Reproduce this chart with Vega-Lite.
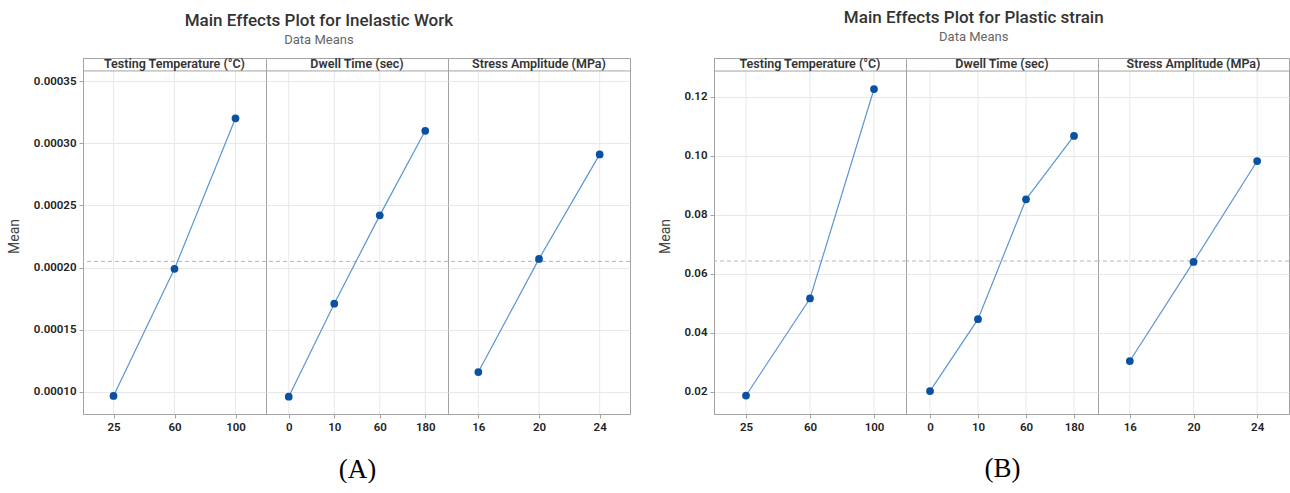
{
  "$schema": "https://vega.github.io/schema/vega-lite/v6.json",
  "padding": {"left": 6, "top": 8, "right": 0, "bottom": 0},
  "background": "white",
  "datasets": {
    "work": [
      {"factor": "Testing Temperature (°C)", "level": "25", "mean": 0.0000968},
      {"factor": "Testing Temperature (°C)", "level": "60", "mean": 0.000199},
      {"factor": "Testing Temperature (°C)", "level": "100", "mean": 0.000320},
      {"factor": "Dwell Time (sec)", "level": "0", "mean": 0.0000962},
      {"factor": "Dwell Time (sec)", "level": "10", "mean": 0.000171},
      {"factor": "Dwell Time (sec)", "level": "60", "mean": 0.000242},
      {"factor": "Dwell Time (sec)", "level": "180", "mean": 0.000310},
      {"factor": "Stress Amplitude (MPa)", "level": "16", "mean": 0.000116},
      {"factor": "Stress Amplitude (MPa)", "level": "20", "mean": 0.000207},
      {"factor": "Stress Amplitude (MPa)", "level": "24", "mean": 0.000291}
    ],
    "strain": [
      {"factor": "Testing Temperature (°C)", "level": "25", "mean": 0.0188},
      {"factor": "Testing Temperature (°C)", "level": "60", "mean": 0.0517},
      {"factor": "Testing Temperature (°C)", "level": "100", "mean": 0.1227},
      {"factor": "Dwell Time (sec)", "level": "0", "mean": 0.0203},
      {"factor": "Dwell Time (sec)", "level": "10", "mean": 0.0447},
      {"factor": "Dwell Time (sec)", "level": "60", "mean": 0.0853},
      {"factor": "Dwell Time (sec)", "level": "180", "mean": 0.1068},
      {"factor": "Stress Amplitude (MPa)", "level": "16", "mean": 0.0305},
      {"factor": "Stress Amplitude (MPa)", "level": "20", "mean": 0.0641},
      {"factor": "Stress Amplitude (MPa)", "level": "24", "mean": 0.0983}
    ],
    "workGrand": [{"mean": 0.000205}],
    "strainGrand": [{"mean": 0.0644}]
  },
  "align": "none",
  "spacing": 26,
  "hconcat": [
    {
      "title": {"text": "Main Effects Plot for Inelastic Work", "subtitle": "Data Means", "dy": 3, "offset": 13},
      "spacing": 0,
      "bounds": "flush",
      "hconcat": [
        {
          "width": 183, "height": 356,
          "layer": [
            {"data": {"name": "work"}, "transform": [{"filter": "datum.factor === 'Testing Temperature (°C)'"}],
             "mark": {"type": "rule", "color": "#e8e8e8"},
             "encoding": {
               "x": {"field": "level", "type": "ordinal", "sort": null, "scale": {"type": "point", "padding": 0.5}, "axis": {"title": null, "labelAngle": 0, "grid": false}},
               "y": {"datum": 0.0000823, "scale": {"domain": [0.0000823, 0.0003685], "nice": false, "zero": false}},
               "y2": {"datum": 0.0003581}}},
            {"data": {"values": [{"factor": "Testing Temperature (°C)"}]}, "mark": {"type": "rule", "color": "#a3a3a3"}, "encoding": {"y": {"datum": 0.0003581}}},
            {"data": {"values": [{"factor": "Testing Temperature (°C)"}]}, "mark": {"type": "text", "fontSize": 12.5, "fontWeight": 600, "color": "#333", "baseline": "middle"},
             "encoding": {"y": {"datum": 0.0003633}, "text": {"field": "factor"}}},
            {"data": {"name": "workGrand"}, "mark": {"type": "rule", "color": "#b4b4b4", "strokeDash": [4, 3], "strokeWidth": 1},
             "encoding": {"y": {"field": "mean", "type": "quantitative"}}},
            {"data": {"name": "work"}, "transform": [{"filter": "datum.factor === 'Testing Temperature (°C)'"}],
             "encoding": {
               "x": {"field": "level", "type": "ordinal", "sort": null, "scale": {"type": "point", "padding": 0.5}, "axis": {"title": null, "labelAngle": 0, "grid": false}},
               "y": {"field": "mean", "type": "quantitative", "scale": {"domain": [0.0000823, 0.0003685], "nice": false, "zero": false},
                     "axis": {"title": "Mean", "values": [0.0001, 0.00015, 0.0002, 0.00025, 0.0003, 0.00035], "format": ".5f", "titlePadding": 12}}},
             "layer": [
               {"mark": {"type": "line", "color": "#5b95d3", "strokeWidth": 1.2}},
               {"mark": {"type": "point", "filled": true, "opacity": 1, "color": "#0a52a1", "size": 60}}
             ]}
          ]
        },
        {
          "width": 182, "height": 356,
          "layer": [
            {"data": {"name": "work"}, "transform": [{"filter": "datum.factor === 'Dwell Time (sec)'"}],
             "mark": {"type": "rule", "color": "#e8e8e8"},
             "encoding": {
               "x": {"field": "level", "type": "ordinal", "sort": null, "scale": {"type": "point", "padding": 0.5},
                     "axis": {"title": "(A)", "labelAngle": 0, "grid": false, "titleFont": "Liberation Serif", "titleFontSize": 27, "titleFontWeight": "normal", "titleColor": "#000", "titlePadding": 24}},
               "y": {"datum": 0.0000823, "scale": {"domain": [0.0000823, 0.0003685], "nice": false, "zero": false}},
               "y2": {"datum": 0.0003581}}},
            {"data": {"values": [{"factor": "Dwell Time (sec)"}]}, "mark": {"type": "rule", "color": "#a3a3a3"}, "encoding": {"y": {"datum": 0.0003581}}},
            {"data": {"values": [{"factor": "Dwell Time (sec)"}]}, "mark": {"type": "text", "fontSize": 12.5, "fontWeight": 600, "color": "#333", "baseline": "middle"},
             "encoding": {"y": {"datum": 0.0003633}, "text": {"field": "factor"}}},
            {"data": {"name": "workGrand"}, "mark": {"type": "rule", "color": "#b4b4b4", "strokeDash": [4, 3], "strokeWidth": 1},
             "encoding": {"y": {"field": "mean", "type": "quantitative"}}},
            {"data": {"name": "work"}, "transform": [{"filter": "datum.factor === 'Dwell Time (sec)'"}],
             "encoding": {
               "x": {"field": "level", "type": "ordinal", "sort": null, "scale": {"type": "point", "padding": 0.5},
                     "axis": {"title": "(A)", "labelAngle": 0, "grid": false, "titleFont": "Liberation Serif", "titleFontSize": 27, "titleFontWeight": "normal", "titleColor": "#000", "titlePadding": 24}},
               "y": {"field": "mean", "type": "quantitative", "scale": {"domain": [0.0000823, 0.0003685], "nice": false, "zero": false},
                     "axis": {"title": null, "values": [0.0001, 0.00015, 0.0002, 0.00025, 0.0003, 0.00035], "labels": false, "ticks": false, "domain": false}}},
             "layer": [
               {"mark": {"type": "line", "color": "#5b95d3", "strokeWidth": 1.2}},
               {"mark": {"type": "point", "filled": true, "opacity": 1, "color": "#0a52a1", "size": 60}}
             ]}
          ]
        },
        {
          "width": 182, "height": 356,
          "layer": [
            {"data": {"name": "work"}, "transform": [{"filter": "datum.factor === 'Stress Amplitude (MPa)'"}],
             "mark": {"type": "rule", "color": "#e8e8e8"},
             "encoding": {
               "x": {"field": "level", "type": "ordinal", "sort": null, "scale": {"type": "point", "padding": 0.5}, "axis": {"title": null, "labelAngle": 0, "grid": false}},
               "y": {"datum": 0.0000823, "scale": {"domain": [0.0000823, 0.0003685], "nice": false, "zero": false}},
               "y2": {"datum": 0.0003581}}},
            {"data": {"values": [{"factor": "Stress Amplitude (MPa)"}]}, "mark": {"type": "rule", "color": "#a3a3a3"}, "encoding": {"y": {"datum": 0.0003581}}},
            {"data": {"values": [{"factor": "Stress Amplitude (MPa)"}]}, "mark": {"type": "text", "fontSize": 12.5, "fontWeight": 600, "color": "#333", "baseline": "middle"},
             "encoding": {"y": {"datum": 0.0003633}, "text": {"field": "factor"}}},
            {"data": {"name": "workGrand"}, "mark": {"type": "rule", "color": "#b4b4b4", "strokeDash": [4, 3], "strokeWidth": 1},
             "encoding": {"y": {"field": "mean", "type": "quantitative"}}},
            {"data": {"name": "work"}, "transform": [{"filter": "datum.factor === 'Stress Amplitude (MPa)'"}],
             "encoding": {
               "x": {"field": "level", "type": "ordinal", "sort": null, "scale": {"type": "point", "padding": 0.5}, "axis": {"title": null, "labelAngle": 0, "grid": false}},
               "y": {"field": "mean", "type": "quantitative", "scale": {"domain": [0.0000823, 0.0003685], "nice": false, "zero": false},
                     "axis": {"title": null, "values": [0.0001, 0.00015, 0.0002, 0.00025, 0.0003, 0.00035], "labels": false, "ticks": false, "domain": false}}},
             "layer": [
               {"mark": {"type": "line", "color": "#5b95d3", "strokeWidth": 1.2}},
               {"mark": {"type": "point", "filled": true, "opacity": 1, "color": "#0a52a1", "size": 60}}
             ]}
          ]
        }
      ]
    },
    {
      "title": {"text": "Main Effects Plot for Plastic strain", "subtitle": "Data Means", "offset": 13},
      "spacing": 0,
      "bounds": "flush",
      "hconcat": [
        {
          "width": 192, "height": 356,
          "layer": [
            {"data": {"name": "strain"}, "transform": [{"filter": "datum.factor === 'Testing Temperature (°C)'"}],
             "mark": {"type": "rule", "color": "#e8e8e8"},
             "encoding": {
               "x": {"field": "level", "type": "ordinal", "sort": null, "scale": {"type": "point", "padding": 0.5}, "axis": {"title": null, "labelAngle": 0, "grid": false}},
               "y": {"datum": 0.01254, "scale": {"domain": [0.01254, 0.13322], "nice": false, "zero": false}},
               "y2": {"datum": 0.1288}}},
            {"data": {"values": [{"factor": "Testing Temperature (°C)"}]}, "mark": {"type": "rule", "color": "#a3a3a3"}, "encoding": {"y": {"datum": 0.1288}}},
            {"data": {"values": [{"factor": "Testing Temperature (°C)"}]}, "mark": {"type": "text", "fontSize": 12.5, "fontWeight": 600, "color": "#333", "baseline": "middle"},
             "encoding": {"y": {"datum": 0.13102}, "text": {"field": "factor"}}},
            {"data": {"name": "strainGrand"}, "mark": {"type": "rule", "color": "#b4b4b4", "strokeDash": [4, 3], "strokeWidth": 1},
             "encoding": {"y": {"field": "mean", "type": "quantitative"}}},
            {"data": {"name": "strain"}, "transform": [{"filter": "datum.factor === 'Testing Temperature (°C)'"}],
             "encoding": {
               "x": {"field": "level", "type": "ordinal", "sort": null, "scale": {"type": "point", "padding": 0.5}, "axis": {"title": null, "labelAngle": 0, "grid": false}},
               "y": {"field": "mean", "type": "quantitative", "scale": {"domain": [0.01254, 0.13322], "nice": false, "zero": false},
                     "axis": {"title": "Mean", "values": [0.02, 0.04, 0.06, 0.08, 0.1, 0.12], "format": ".2f", "titlePadding": 12}}},
             "layer": [
               {"mark": {"type": "line", "color": "#5b95d3", "strokeWidth": 1.2}},
               {"mark": {"type": "point", "filled": true, "opacity": 1, "color": "#0a52a1", "size": 60}}
             ]}
          ]
        },
        {
          "width": 192, "height": 356,
          "layer": [
            {"data": {"name": "strain"}, "transform": [{"filter": "datum.factor === 'Dwell Time (sec)'"}],
             "mark": {"type": "rule", "color": "#e8e8e8"},
             "encoding": {
               "x": {"field": "level", "type": "ordinal", "sort": null, "scale": {"type": "point", "padding": 0.5},
                     "axis": {"title": "(B)", "labelAngle": 0, "grid": false, "titleFont": "Liberation Serif", "titleFontSize": 27, "titleFontWeight": "normal", "titleColor": "#000", "titlePadding": 23}},
               "y": {"datum": 0.01254, "scale": {"domain": [0.01254, 0.13322], "nice": false, "zero": false}},
               "y2": {"datum": 0.1288}}},
            {"data": {"values": [{"factor": "Dwell Time (sec)"}]}, "mark": {"type": "rule", "color": "#a3a3a3"}, "encoding": {"y": {"datum": 0.1288}}},
            {"data": {"values": [{"factor": "Dwell Time (sec)"}]}, "mark": {"type": "text", "fontSize": 12.5, "fontWeight": 600, "color": "#333", "baseline": "middle"},
             "encoding": {"y": {"datum": 0.13102}, "text": {"field": "factor"}}},
            {"data": {"name": "strainGrand"}, "mark": {"type": "rule", "color": "#b4b4b4", "strokeDash": [4, 3], "strokeWidth": 1},
             "encoding": {"y": {"field": "mean", "type": "quantitative"}}},
            {"data": {"name": "strain"}, "transform": [{"filter": "datum.factor === 'Dwell Time (sec)'"}],
             "encoding": {
               "x": {"field": "level", "type": "ordinal", "sort": null, "scale": {"type": "point", "padding": 0.5},
                     "axis": {"title": "(B)", "labelAngle": 0, "grid": false, "titleFont": "Liberation Serif", "titleFontSize": 27, "titleFontWeight": "normal", "titleColor": "#000", "titlePadding": 23}},
               "y": {"field": "mean", "type": "quantitative", "scale": {"domain": [0.01254, 0.13322], "nice": false, "zero": false},
                     "axis": {"title": null, "values": [0.02, 0.04, 0.06, 0.08, 0.1, 0.12], "labels": false, "ticks": false, "domain": false}}},
             "layer": [
               {"mark": {"type": "line", "color": "#5b95d3", "strokeWidth": 1.2}},
               {"mark": {"type": "point", "filled": true, "opacity": 1, "color": "#0a52a1", "size": 60}}
             ]}
          ]
        },
        {
          "width": 191, "height": 356,
          "layer": [
            {"data": {"name": "strain"}, "transform": [{"filter": "datum.factor === 'Stress Amplitude (MPa)'"}],
             "mark": {"type": "rule", "color": "#e8e8e8"},
             "encoding": {
               "x": {"field": "level", "type": "ordinal", "sort": null, "scale": {"type": "point", "padding": 0.5}, "axis": {"title": null, "labelAngle": 0, "grid": false}},
               "y": {"datum": 0.01254, "scale": {"domain": [0.01254, 0.13322], "nice": false, "zero": false}},
               "y2": {"datum": 0.1288}}},
            {"data": {"values": [{"factor": "Stress Amplitude (MPa)"}]}, "mark": {"type": "rule", "color": "#a3a3a3"}, "encoding": {"y": {"datum": 0.1288}}},
            {"data": {"values": [{"factor": "Stress Amplitude (MPa)"}]}, "mark": {"type": "text", "fontSize": 12.5, "fontWeight": 600, "color": "#333", "baseline": "middle"},
             "encoding": {"y": {"datum": 0.13102}, "text": {"field": "factor"}}},
            {"data": {"name": "strainGrand"}, "mark": {"type": "rule", "color": "#b4b4b4", "strokeDash": [4, 3], "strokeWidth": 1},
             "encoding": {"y": {"field": "mean", "type": "quantitative"}}},
            {"data": {"name": "strain"}, "transform": [{"filter": "datum.factor === 'Stress Amplitude (MPa)'"}],
             "encoding": {
               "x": {"field": "level", "type": "ordinal", "sort": null, "scale": {"type": "point", "padding": 0.5}, "axis": {"title": null, "labelAngle": 0, "grid": false}},
               "y": {"field": "mean", "type": "quantitative", "scale": {"domain": [0.01254, 0.13322], "nice": false, "zero": false},
                     "axis": {"title": null, "values": [0.02, 0.04, 0.06, 0.08, 0.1, 0.12], "labels": false, "ticks": false, "domain": false}}},
             "layer": [
               {"mark": {"type": "line", "color": "#5b95d3", "strokeWidth": 1.2}},
               {"mark": {"type": "point", "filled": true, "opacity": 1, "color": "#0a52a1", "size": 60}}
             ]}
          ]
        }
      ]
    }
  ],
  "config": {
    "font": "Roboto",
    "view": {"stroke": "#a3a3a3", "strokeWidth": 1},
    "title": {"fontSize": 17, "fontWeight": 500, "color": "#333", "subtitleFontSize": 13, "subtitleColor": "#666", "subtitlePadding": 4, "anchor": "middle"},
    "axis": {
      "grid": true, "gridColor": "#e8e8e8", "gridWidth": 1,
      "domainColor": "#a3a3a3", "tickColor": "#a3a3a3", "tickSize": 4,
      "labelColor": "#222", "labelFontSize": 11.5, "labelFontWeight": 600, "labelPadding": 3,
      "titleColor": "#444", "titleFontSize": 14, "titleFontWeight": "normal"
    }
  }
}
